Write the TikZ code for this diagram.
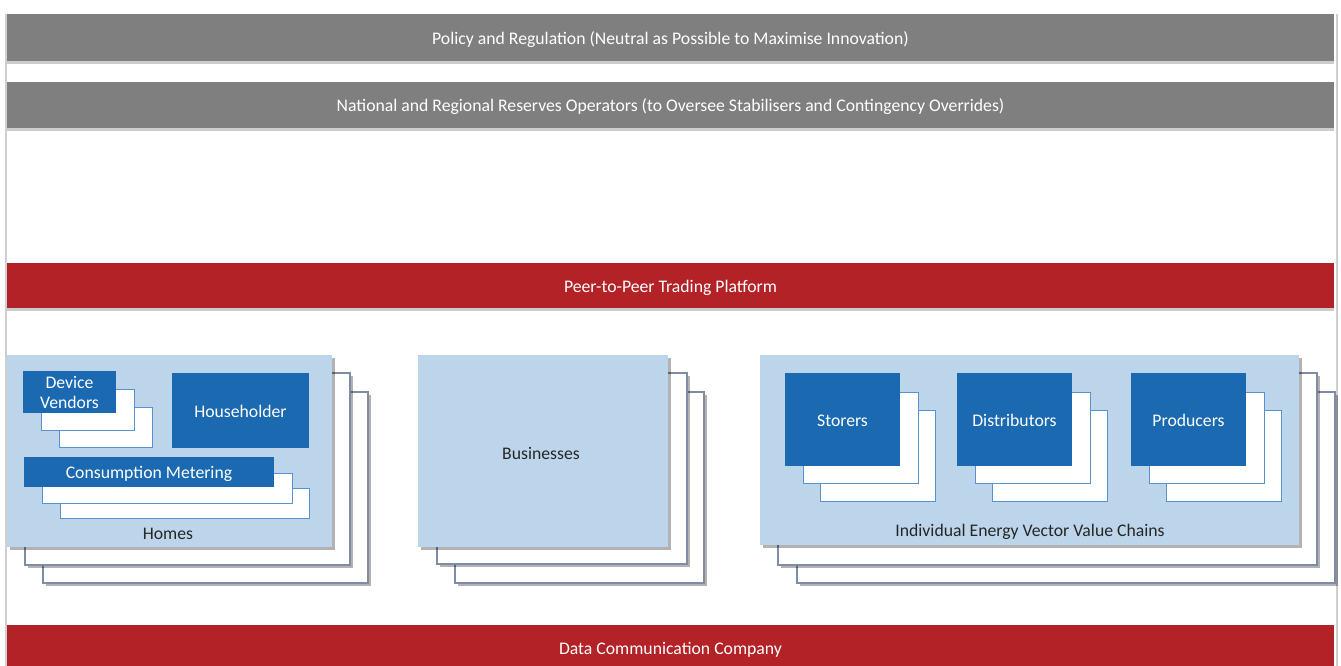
\documentclass[tikz,border=0pt]{standalone}
\usepackage{fontspec}
\setmainfont{Carlito}
\usetikzlibrary{shadows}
\definecolor{barGray}{HTML}{7F7F7F}
\definecolor{barRed}{HTML}{B22226}
\definecolor{lightBlue}{HTML}{BDD5EA}
\definecolor{darkBlue}{HTML}{1A69B1}
\definecolor{smallBorder}{HTML}{5A92CE}
\definecolor{bigBorder}{HTML}{7E8CA6}
\definecolor{frameGray}{HTML}{CFCFCF}
\definecolor{labelText}{HTML}{262626}
\tikzset{
  base/.style={anchor=north west, inner sep=0pt, outer sep=0pt, font=\fontsize{17.7}{20}\selectfont},
  sh/.style={drop shadow={shadow xshift=2.5pt, shadow yshift=-3pt, fill=black, opacity=0.3}},
  barsh/.style={drop shadow={shadow xshift=0pt, shadow yshift=-3pt, fill=black, opacity=0.2}},
  graybar/.style={base, barsh, fill=barGray, text=white, minimum width=1327pt, text height=14pt, text depth=0pt},
  redbar/.style={base, barsh, fill=barRed, text=white, minimum width=1327pt, text height=14pt, text depth=0pt},
  bigfront/.style={base, sh, fill=lightBlue},
  bigback/.style={base, sh, fill=white, draw=bigBorder, line width=1.2pt},
  darkbox/.style={base, fill=darkBlue, text=white, align=center},
  oneline/.style={text height=13pt, text depth=0pt},
  smallback/.style={base, fill=white, draw=smallBorder, line width=1pt},
  lbl/.style={inner sep=0pt, text=labelText, font=\fontsize{17.7}{20}\selectfont},
}
\begin{document}
\begin{tikzpicture}[x=1pt, y=-1pt]
\useasboundingbox[fill=white] (0,0) rectangle (1341,666);
% frame lines
\draw[frameGray, line width=2pt] (5.5,14) -- (5.5,666);
\draw[frameGray, line width=2pt] (1336.5,14) -- (1336.5,666);
% bars
\node[graybar, minimum height=47pt] (policy) at (7,14) {Policy and Regulation (Neutral as Possible to Maximise Innovation)};
\node[graybar, minimum height=46pt] (reserves) at (7,82) {National and Regional Reserves Operators (to Oversee Stabilisers and Contingency Overrides)};
\node[redbar, minimum height=45pt] (p2p) at (7,263) {Peer-to-Peer Trading Platform};
\node[redbar, minimum height=45pt] (dcc) at (7,625) {Data Communication Company};
% Homes
\node[bigback, minimum width=325pt, minimum height=191pt] (h3) at (43,392) {};
\node[bigback, minimum width=325pt, minimum height=192pt] (h2) at (25,373) {};
\node[bigfront, minimum width=325pt, minimum height=192pt] (h1) at (7,355) {};
\node[smallback, minimum width=93pt, minimum height=40pt] (dv3) at (59,407) {};
\node[smallback, minimum width=93pt, minimum height=41pt] (dv2) at (41,389) {};
\node[darkbox, minimum width=93pt, minimum height=42pt, font=\fontsize{17.7}{20}\selectfont] (dv1) at (23,371) {Device\\Vendors};
\node[darkbox, oneline, minimum width=137pt, minimum height=75pt] (hh) at (172,373) {Householder};
\node[smallback, minimum width=249pt, minimum height=30pt] (cm3) at (60,488) {};
\node[smallback, minimum width=250pt, minimum height=30pt] (cm2) at (42,473) {};
\node[darkbox, oneline, minimum width=250pt, minimum height=30pt] (cm1) at (24,457) {Consumption Metering};
\node[lbl] (homes) at (168,534) {Homes};
% Businesses
\node[bigback, minimum width=249pt, minimum height=191pt] (b3) at (455,392) {};
\node[bigback, minimum width=250pt, minimum height=191pt] (b2) at (437,373) {};
\node[bigfront, minimum width=250pt, minimum height=192pt] (b1) at (418,355) {};
\node[lbl] (bus) at (541,453) {Businesses};
% Value chains
\node[bigback, minimum width=538pt, minimum height=191pt] (v3) at (797,392) {};
\node[bigback, minimum width=539pt, minimum height=192pt] (v2) at (778,373) {};
\node[bigfront, minimum width=539pt, minimum height=190pt] (v1) at (760,355) {};
\foreach \n/\xx/\t in {st/785/Storers, di/957/Distributors, pr/1131/Producers}{
  \node[smallback, minimum width=115pt, minimum height=91pt] (\n3) at (\xx+35,410) {};
  \node[smallback, minimum width=115pt, minimum height=91pt] (\n2) at (\xx+18,392) {};
  \node[darkbox, oneline, minimum width=115pt, minimum height=93pt] (\n1) at (\xx,373) {\t};
}
\node[lbl] (iev) at (1030,532) {Individual Energy Vector Value Chains};
\end{tikzpicture}
\end{document}
